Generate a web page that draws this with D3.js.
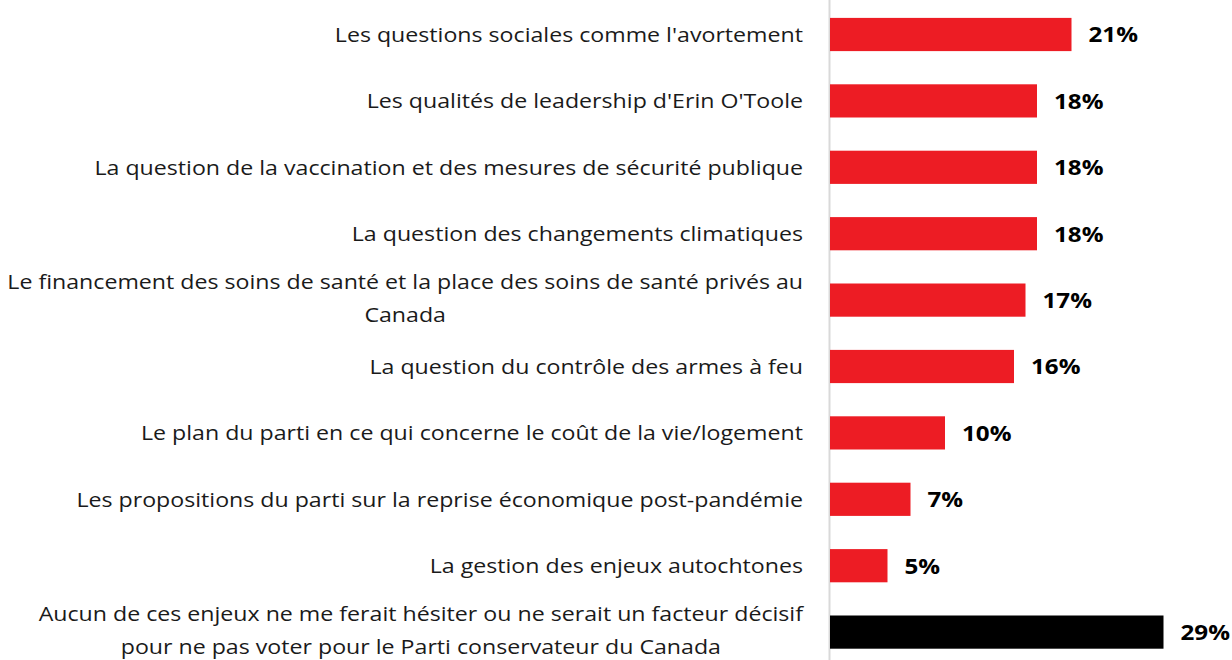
<!DOCTYPE html>
<html>
<head>
<meta charset="utf-8">
<script src="https://cdn.jsdelivr.net/npm/d3@7"></script>
<style>
  html, body { margin: 0; padding: 0; background: #fff; }
  svg { display: block; }
</style>
</head>
<body>
<svg id="chart" width="1232" height="660"></svg>
<script>
// Enjeux qui pourraient faire hésiter à voter pour le Parti conservateur (%)
const categories = [
  ["Les questions sociales comme l'avortement"],
  ["Les qualités de leadership d'Erin O'Toole"],
  ["La question de la vaccination et des mesures de sécurité publique"],
  ["La question des changements climatiques"],
  ["Le financement des soins de santé et la place des soins de santé privés au", "Canada"],
  ["La question du contrôle des armes à feu"],
  ["Le plan du parti en ce qui concerne le coût de la vie/logement"],
  ["Les propositions du parti sur la reprise économique post-pandémie"],
  ["La gestion des enjeux autochtones"],
  ["Aucun de ces enjeux ne me ferait hésiter ou ne serait un facteur décisif", "pour ne pas voter pour le Parti conservateur du Canada"]
];
const values = [21, 18, 18, 18, 17, 16, 10, 7, 5, 29];
const barColors = ["#ed1c24", "#ed1c24", "#ed1c24", "#ed1c24", "#ed1c24", "#ed1c24", "#ed1c24", "#ed1c24", "#ed1c24", "#000000"];

const svg = d3.select("#chart");
const axisX = 829.5;
const labelRight = 803;
const labelStretch = 1.13; // wide lettering for category labels
const valueStretch = 1.1;
const fontFamily = "'Open Sans', 'Noto Sans', sans-serif";

const x = d3.scaleLinear().domain([0, 29]).range([830, 1163.5]);
const idx = d3.range(values.length);
const y = d3.scaleBand().domain(idx).range([1.3, 665.3]).paddingInner(0.5).paddingOuter(0.25);

// vertical category axis line
svg.append("line")
  .attr("x1", axisX).attr("x2", axisX)
  .attr("y1", 0).attr("y2", 660)
  .attr("stroke", "#d9d9d9").attr("stroke-width", 2);

// bars
svg.selectAll("rect.bar").data(idx).enter().append("rect")
  .attr("class", "bar")
  .attr("x", x(0))
  .attr("y", i => y(i))
  .attr("width", i => x(values[i]) - x(0))
  .attr("height", y.bandwidth())
  .attr("fill", i => barColors[i]);

// value labels
svg.selectAll("text.val").data(idx).enter().append("text")
  .attr("class", "val")
  .attr("transform", i => `translate(${x(values[i]) + 17},${y(i) + y.bandwidth() / 2}) scale(${valueStretch},1)`)
  .attr("dy", "0.36em")
  .attr("font-family", fontFamily)
  .attr("font-weight", "bold")
  .attr("font-size", 22)
  .attr("fill", "#000")
  .text(i => values[i] + "%");

// category labels: lines centred on each other, block right-aligned to the axis
const lineH = 33;
const labels = svg.append("g")
  .attr("transform", `translate(${labelRight},0) scale(${labelStretch},1)`);
idx.forEach(i => {
  const lines = categories[i];
  const g = labels.append("g");
  const cy = y(i) + y.bandwidth() / 2 - (lines.length > 1 ? 2 : 0);
  const texts = lines.map((ln, k) => g.append("text")
    .attr("y", cy + (k - (lines.length - 1) / 2) * lineH)
    .attr("dy", "0.36em")
    .attr("font-family", fontFamily)
    .attr("font-size", 20.5)
    .attr("fill", "#1a1a1a")
    .text(ln));
  const maxW = d3.max(texts, t => t.node().getComputedTextLength());
  texts.forEach(t => t.attr("text-anchor", "middle").attr("x", -maxW / 2));
});
</script>
</body>
</html>
